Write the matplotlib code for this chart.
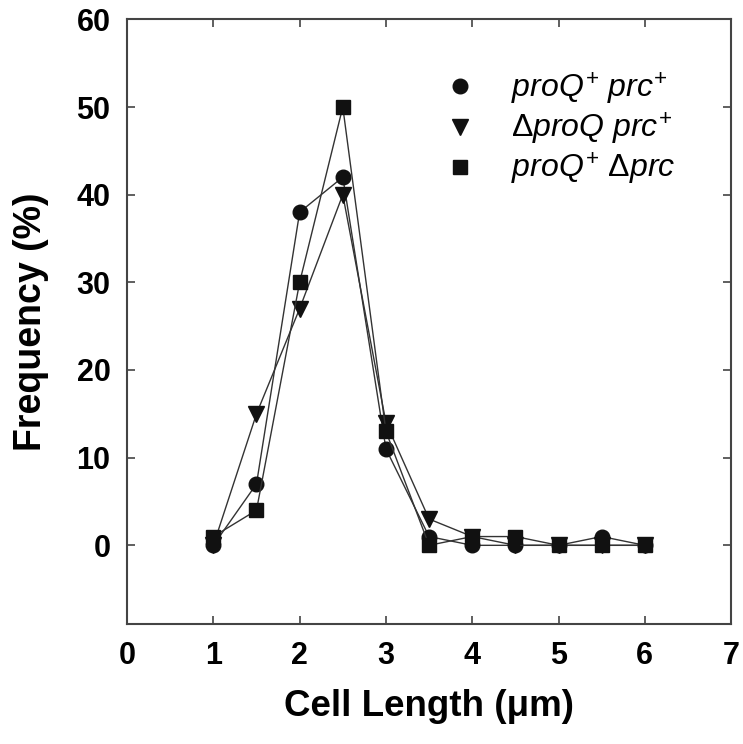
import matplotlib
matplotlib.use("Agg")
import matplotlib.pyplot as plt

plt.rcParams['font.family'] = ['Liberation Sans', 'DejaVu Sans']
plt.rcParams['mathtext.fontset'] = 'custom'
plt.rcParams['mathtext.rm'] = 'Liberation Sans'
plt.rcParams['mathtext.it'] = 'Liberation Sans:italic'
plt.rcParams['mathtext.bf'] = 'Liberation Sans:bold'

x = [1, 1.5, 2, 2.5, 3, 3.5, 4, 4.5, 5, 5.5, 6]
wt = [0, 7, 38, 42, 11, 1, 0, 0, 0, 1, 0]
dproq = [0, 15, 27, 40, 14, 3, 1, 0, 0, 0, 0]
dprc = [1, 4, 30, 50, 13, 0, 1, 1, 0, 0, 0]

labels = [r'$\mathit{proQ}^{+}\ \mathit{prc}^{+}$',
          r'$\Delta\mathit{proQ}\ \mathit{prc}^{+}$',
          r'$\mathit{proQ}^{+}\ \Delta\mathit{prc}$']

xticks = [0, 1, 2, 3, 4, 5, 6, 7]
yticks = [0, 10, 20, 30, 40, 50, 60]

fig = plt.figure(figsize=(7.43, 7.44), dpi=100)
ax = fig.add_axes([0.171, 0.161, 0.813, 0.813])

lc = '#333333'
h1, = ax.plot(x, wt, color=lc, lw=1.0, marker='o', ms=10.5, mfc='#111111', mec='#111111', zorder=3)
h2, = ax.plot(x, dproq, color=lc, lw=1.0, marker='v', ms=11, mfc='#111111', mec='#111111', zorder=3)
h3, = ax.plot(x, dprc, color=lc, lw=1.0, marker='s', ms=10, mfc='#111111', mec='#111111', zorder=3)

ax.set_xlim(0, 7)
ax.set_ylim(-9, 60)
ax.set_xticks(xticks)
ax.set_yticks(yticks)
ax.tick_params(direction='in', length=6, width=1.2, color='#444444',
               labelsize=22, top=True, right=True, pad=12)
for lab in ax.get_xticklabels() + ax.get_yticklabels():
    lab.set_fontweight('bold')
for s in ax.spines.values():
    s.set_linewidth(1.5)
    s.set_color('#444444')

ax.set_xlabel('Cell Length (\u03bcm)', fontsize=26.5, fontweight='bold', labelpad=13)
ax.set_ylabel('Frequency (%)', fontsize=27, fontweight='bold', labelpad=20)

leg = ax.legend([h1, h2, h3], labels, loc='upper left', bbox_to_anchor=(0.551, 0.915),
                borderaxespad=0, borderpad=0,
                frameon=False, fontsize=23, handlelength=0, handletextpad=1.6,
                labelspacing=0.12, markerscale=1.0)
for line in leg.get_lines():
    line.set_linestyle('None')

fig.savefig('out.png', dpi=100)
